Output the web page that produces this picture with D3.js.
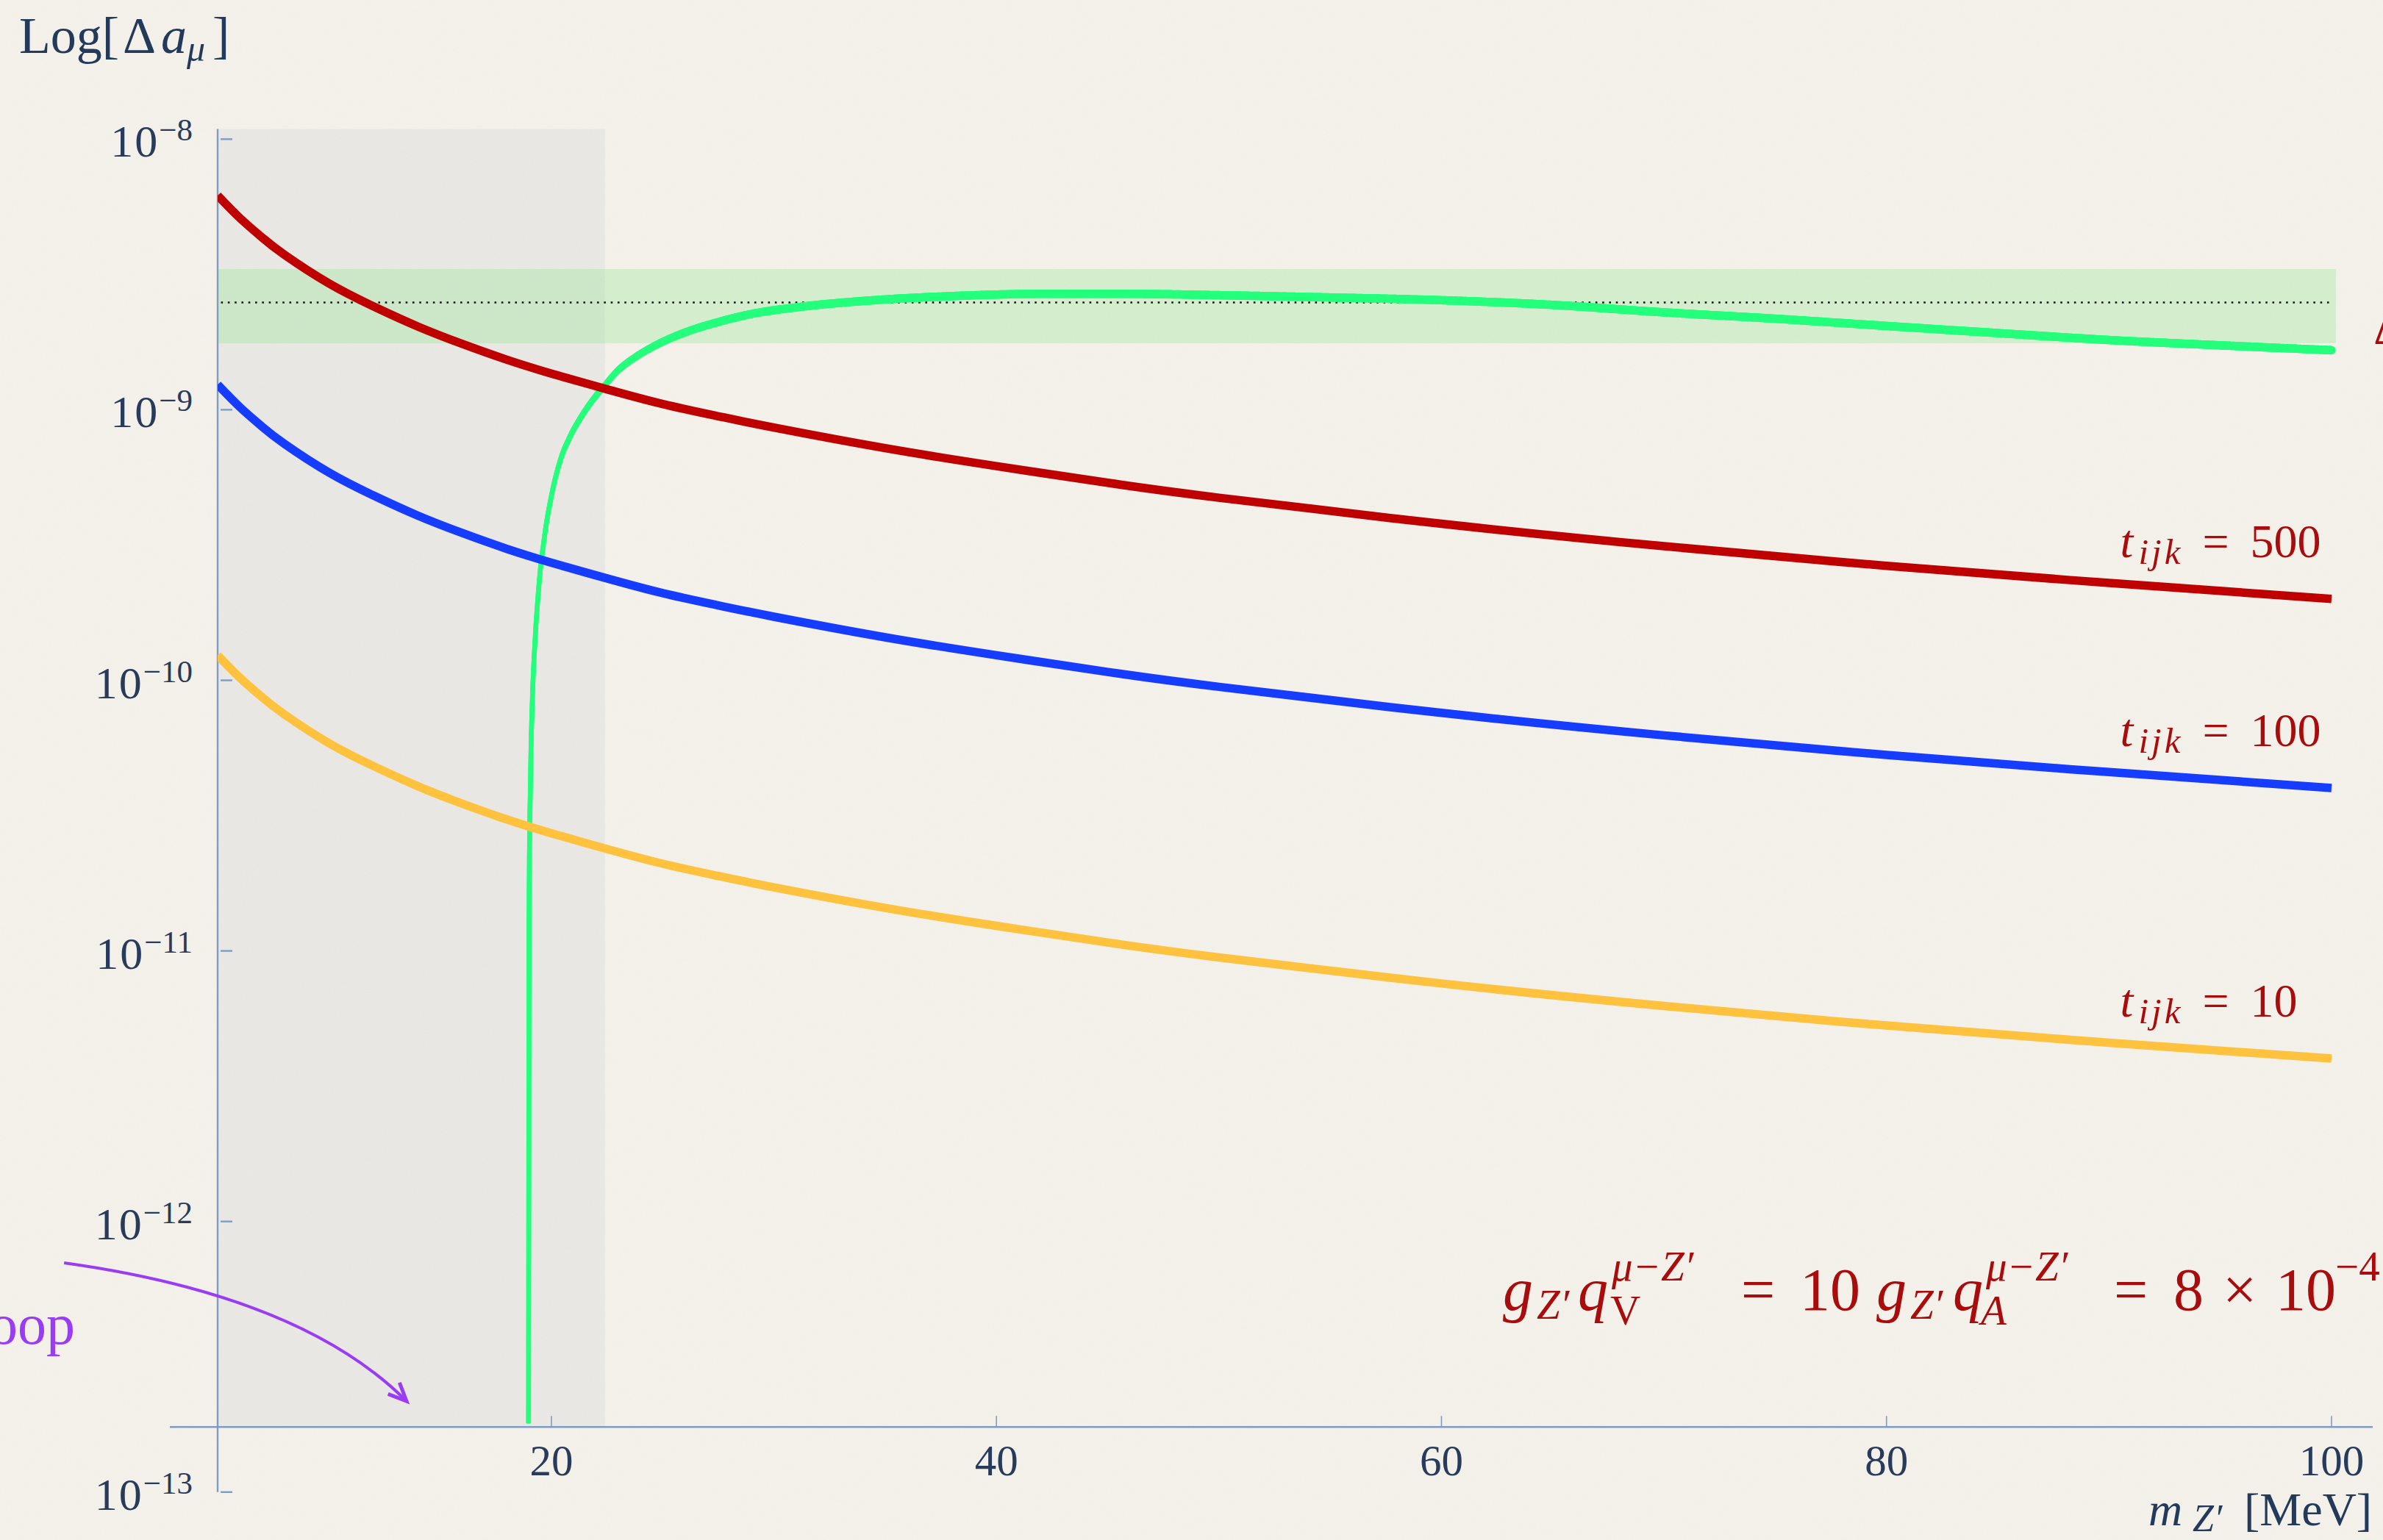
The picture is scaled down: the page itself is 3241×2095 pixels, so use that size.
<!DOCTYPE html>
<html>
<head>
<meta charset="utf-8">
<script src="https://cdn.jsdelivr.net/npm/d3@7"></script>
<style>
  html, body { margin: 0; padding: 0; background: #f4f1eb; }
  svg { display: block; }
  text { font-family: "Liberation Serif", "Times New Roman", serif; }
</style>
</head>
<body>
<script>
// Z' mass grid (MeV) for the t_ijk curves
const masses = [5, 6, 7, 8, 10, 12, 14, 16, 18, 20, 22.5, 25, 27.5, 30, 35, 40, 45, 50, 60, 70, 80, 90, 100];

// Delta a_mu for three values of t_ijk
const t500 = [6.19e-9, 5.11e-9, 4.33e-9, 3.74e-9, 2.93e-9, 2.41e-9, 2.03e-9, 1.75e-9, 1.53e-9, 1.36e-9, 1.19e-9, 1.05e-9, 9.46e-10, 8.59e-10, 7.21e-10, 6.19e-10, 5.37e-10, 4.73e-10, 3.79e-10, 3.13e-10, 2.65e-10, 2.29e-10, 2.00e-10];
const t100 = [1.238e-9, 1.022e-9, 8.66e-10, 7.48e-10, 5.86e-10, 4.82e-10, 4.06e-10, 3.50e-10, 3.06e-10, 2.72e-10, 2.38e-10, 2.10e-10, 1.892e-10, 1.718e-10, 1.442e-10, 1.238e-10, 1.074e-10, 9.46e-11, 7.58e-11, 6.26e-11, 5.30e-11, 4.58e-11, 4.00e-11];
const t10 = [1.238e-10, 1.022e-10, 8.66e-11, 7.48e-11, 5.86e-11, 4.82e-11, 4.06e-11, 3.50e-11, 3.06e-11, 2.72e-11, 2.38e-11, 2.10e-11, 1.892e-11, 1.718e-11, 1.442e-11, 1.238e-11, 1.074e-11, 9.46e-12, 7.58e-12, 6.26e-12, 5.30e-12, 4.58e-12, 4.00e-12];

// One-loop Z' contribution with vector + axial couplings (changes sign near 19 MeV)
const greenMass = [18.97, 19.0, 19.06, 19.15, 19.26, 19.44, 19.7, 20.0, 20.4, 20.82, 21.3, 21.8, 22.36, 23.0, 23.8, 24.8, 26.0, 27.5, 29.0, 31.0, 34.5, 38, 42, 46, 50, 55, 60, 65, 70, 75, 80, 85, 90, 95, 100];
const greenVal = [1e-13, 1.6e-11, 4.3e-11, 8.8e-11, 1.38e-10, 2.25e-10, 3.45e-10, 4.8e-10, 6.5e-10, 7.9e-10, 9.3e-10, 1.07e-9, 1.22e-9, 1.40e-9, 1.57e-9, 1.75e-9, 1.93e-9, 2.11e-9, 2.26e-9, 2.39e-9, 2.54e-9, 2.63e-9, 2.68e-9, 2.68e-9, 2.65e-9, 2.60e-9, 2.54e-9, 2.44e-9, 2.29e-9, 2.17e-9, 2.04e-9, 1.92e-9, 1.81e-9, 1.73e-9, 1.66e-9];

// Measured anomaly and its band
const bandLow = 1.76e-9, bandHigh = 3.31e-9, bandCentral = 2.49e-9;
// Excluded low-mass region
const excludedMass = [5, 22.4];

const yTickExp = [-8, -9, -10, -11, -12, -13];
const xTickVals = [20, 40, 60, 80, 100];
const tLabels = ["500", "100", "10"];

const W = 3241, H = 2095;
const x = d3.scaleLinear().domain([5, 100]).range([296, 3171]);
const y = d3.scaleLog().domain([1e-8, 1e-13]).range([189.3, 2029.8]);
const axisCross = 1.74e-13;       // where the mass axis crosses
const yTop = 1.09e-8;             // top of the frame
const xAxisExtent = [2.85, 101.85];

const axisColor = "#7f9cc3";
const labelColor = "#283b5b";
const darkRed = "#a80c0c";

const svg = d3.select("body").append("svg").attr("width", W).attr("height", H);

// subtle paper grain
const defs = svg.append("defs");
const grain = defs.append("filter").attr("id", "grain").attr("x", 0).attr("y", 0).attr("width", 1).attr("height", 1);
grain.append("feTurbulence").attr("type", "fractalNoise").attr("baseFrequency", 0.9).attr("numOctaves", 2).attr("seed", 3).attr("result", "n");
grain.append("feColorMatrix").attr("in", "n").attr("type", "matrix")
  .attr("values", "0 0 0 0 0.55  0 0 0 0 0.5  0 0 0 0 0.4  0 0 0 0.9 -0.35");
svg.append("rect").attr("width", W).attr("height", H).attr("fill", "#f4f1eb");
svg.append("rect").attr("width", W).attr("height", H).attr("filter", "url(#grain)").attr("opacity", 0.12);

defs.append("clipPath").attr("id", "plotClip")
  .append("rect").attr("x", x(5)).attr("y", y(yTop)).attr("width", x(100.3) - x(5)).attr("height", y(axisCross) - 5 - y(yTop));

// excluded region
svg.append("rect")
  .attr("x", x(excludedMass[0])).attr("y", y(yTop))
  .attr("width", x(excludedMass[1]) - x(excludedMass[0]))
  .attr("height", y(axisCross) - y(yTop))
  .attr("fill", "#8d9caa").attr("opacity", 0.1);

// experimental band
svg.append("rect")
  .attr("x", x(5)).attr("y", y(bandHigh))
  .attr("width", x(100.2) - x(5)).attr("height", y(bandLow) - y(bandHigh))
  .attr("fill", "rgb(140,232,140)").attr("opacity", 0.3);
svg.append("line")
  .attr("x1", x(5.15)).attr("x2", x(99.9)).attr("y1", y(bandCentral)).attr("y2", y(bandCentral))
  .attr("stroke", "#111").attr("stroke-width", 2.6).attr("stroke-dasharray", "2.6 6.7");

// axes
svg.append("line").attr("x1", x(xAxisExtent[0])).attr("x2", x(xAxisExtent[1]))
  .attr("y1", y(axisCross)).attr("y2", y(axisCross)).attr("stroke", axisColor).attr("stroke-width", 2.6);
svg.append("line").attr("x1", x(5)).attr("x2", x(5)).attr("y1", y(yTop)).attr("y2", y(1e-13))
  .attr("stroke", axisColor).attr("stroke-width", 2.4);

// y ticks and labels
yTickExp.forEach(e => {
  const v = Math.pow(10, e);
  svg.append("line").attr("x1", x(5) + 4).attr("x2", x(5) + 20).attr("y1", y(v)).attr("y2", y(v))
    .attr("stroke", axisColor).attr("stroke-width", 2.4);
  const t = svg.append("text").attr("x", 262).attr("y", y(v) + 24).attr("text-anchor", "end").attr("fill", labelColor);
  t.append("tspan").attr("font-size", 62).attr("letter-spacing", 2).text("10");
  t.append("tspan").attr("font-size", 43).attr("dy", -22).text("\u2212" + Math.abs(e));
});

// x ticks and labels
xTickVals.forEach(v => {
  svg.append("line").attr("x1", x(v)).attr("x2", x(v)).attr("y1", y(axisCross)).attr("y2", y(axisCross) - 15)
    .attr("stroke", axisColor).attr("stroke-width", 1.6);
  svg.append("text").attr("x", x(v)).attr("y", 2007).attr("text-anchor", "middle")
    .attr("font-size", 59).attr("fill", labelColor).text(v);
});

// helper for math-like text made of positioned pieces
function pieces(parent, x0, y0, color, list) {
  list.forEach(p => {
    parent.append("text")
      .attr("x", x0 + p.x).attr("y", y0 + (p.dy || 0))
      .attr("font-size", p.size).attr("font-style", p.it ? "italic" : "normal")
      .attr("letter-spacing", p.ls || 0)
      .attr("fill", color).text(p.s);
  });
}

// axis titles
pieces(svg, 0, 72, "#233a5a", [
  { s: "Log[", x: 26, size: 70 },
  { s: "\u0394", x: 167, size: 70 },
  { s: "a", x: 219, size: 70, it: true },
  { s: "\u03bc", x: 254, dy: 11, size: 50, it: true },
  { s: "]", x: 289, size: 70 }
]);
pieces(svg, 0, 2075, "#233a5a", [
  { s: "m", x: 2922, size: 64, it: true },
  { s: "Z\u2032", x: 2982, dy: 8, size: 52, it: true },
  { s: "[MeV]", x: 3052, size: 64 }
]);

// curves
const smooth = d3.line().x(d => x(d[0])).y(d => y(d[1])).curve(d3.curveNatural);
const mono = d3.line().x(d => x(d[0])).y(d => y(d[1])).curve(d3.curveMonotoneX);
const plot = svg.append("g").attr("clip-path", "url(#plotClip)");

// green curve: thinner where it turns steep
const greenPts = greenMass.map((m, i) => [m, greenVal[i]]);
const tmp = plot.append("path").attr("d", mono(greenPts)).attr("fill", "none").attr("stroke", "none");
const node = tmp.node();
const len = node.getTotalLength();
const segs = [];
let prev = node.getPointAtLength(0);
for (let s = 2; s <= len + 2; s += 2) {
  const p = node.getPointAtLength(Math.min(s, len));
  if (p.x !== prev.x || p.y !== prev.y) segs.push([prev, p]);
  prev = p;
}
plot.append("g").selectAll("line").data(segs).join("line")
  .attr("x1", d => d[0].x).attr("y1", d => d[0].y).attr("x2", d => d[1].x).attr("y2", d => d[1].y)
  .attr("stroke", "#24ff7c").attr("stroke-linecap", "round")
  .attr("stroke-width", d => {
    const dx = d[1].x - d[0].x, dy = d[1].y - d[0].y;
    const c = Math.abs(dx) / Math.hypot(dx, dy);
    return 6.5 + 5 * c * c;
  });

const series = [
  { vals: t10, color: "#ffc23f", label: tLabels[2] },
  { vals: t100, color: "#163cff", label: tLabels[1] },
  { vals: t500, color: "#bf0000", label: tLabels[0] }
];
series.forEach(s => {
  plot.append("path").attr("d", smooth(masses.map((m, i) => [m, s.vals[i]])))
    .attr("fill", "none").attr("stroke", s.color).attr("stroke-width", 11.5);
});

// curve labels
series.forEach(s => {
  const yl = y(s.vals[s.vals.length - 1]) - 57;
  pieces(svg, x(90.5), yl, darkRed, [
    { s: "t", x: 0, size: 64, it: true },
    { s: "ijk", x: 25, dy: 9, size: 49, it: true, ls: 4 },
    { s: "=", x: 112, size: 64 },
    { s: s.label, x: 177, size: 64 }
  ]);
});

// coupling annotation
pieces(svg, 2044, 1782, darkRed, [
  { s: "g", x: 0, size: 82, it: true },
  { s: "Z\u2032", x: 46, dy: 12, size: 57, it: true },
  { s: "q", x: 102, size: 82, it: true },
  { s: "\u03bc\u2212Z\u2032", x: 148, dy: -40, size: 57, it: true },
  { s: "V", x: 146, dy: 20, size: 57 },
  { s: "=", x: 324, size: 82 },
  { s: "10", x: 404, size: 82 },
  { s: "g", x: 508, size: 82, it: true },
  { s: "Z\u2032", x: 554, dy: 12, size: 57, it: true },
  { s: "q", x: 612, size: 82, it: true },
  { s: "\u03bc\u2212Z\u2032", x: 657, dy: -40, size: 57, it: true },
  { s: "A", x: 650, dy: 20, size: 57, it: true },
  { s: "=", x: 831, size: 82 },
  { s: "8", x: 912, size: 82 },
  { s: "\u00d7", x: 979, size: 82 },
  { s: "10", x: 1051, size: 82 },
  { s: "\u22124", x: 1132, dy: -40, size: 57 }
]);

// partly visible label on the right edge
svg.append("text").attr("x", 3228).attr("y", 468).attr("font-size", 70).attr("fill", darkRed).text("\u0394a");

// loop annotation with arrow
const purple = "#9a3cf4";
svg.append("text").attr("x", 102).attr("y", 1828).attr("text-anchor", "end")
  .attr("font-size", 78).attr("fill", purple).text("loop");
const a0 = [x(-1.9), y(Math.pow(10, -12.153))];
const ac = [x(8.77), y(Math.pow(10, -12.275))];
const a1 = [x(13.49), y(Math.pow(10, -12.664))];
const ap = d3.path();
ap.moveTo(a0[0], a0[1]);
ap.quadraticCurveTo(ac[0], ac[1], a1[0], a1[1]);
svg.append("path").attr("d", ap.toString()).attr("fill", "none").attr("stroke", purple).attr("stroke-width", 4);
// arrow head along the end tangent
const ang = Math.atan2(a1[1] - ac[1], a1[0] - ac[0]);
const hl = 27, hw = 0.42;
const hp = d3.path();
hp.moveTo(a1[0] - hl * Math.cos(ang - hw), a1[1] - hl * Math.sin(ang - hw));
hp.lineTo(a1[0], a1[1]);
hp.lineTo(a1[0] - hl * Math.cos(ang + hw), a1[1] - hl * Math.sin(ang + hw));
svg.append("path").attr("d", hp.toString()).attr("fill", "none").attr("stroke", purple)
  .attr("stroke-width", 5).attr("stroke-linejoin", "miter");
</script>
</body>
</html>
